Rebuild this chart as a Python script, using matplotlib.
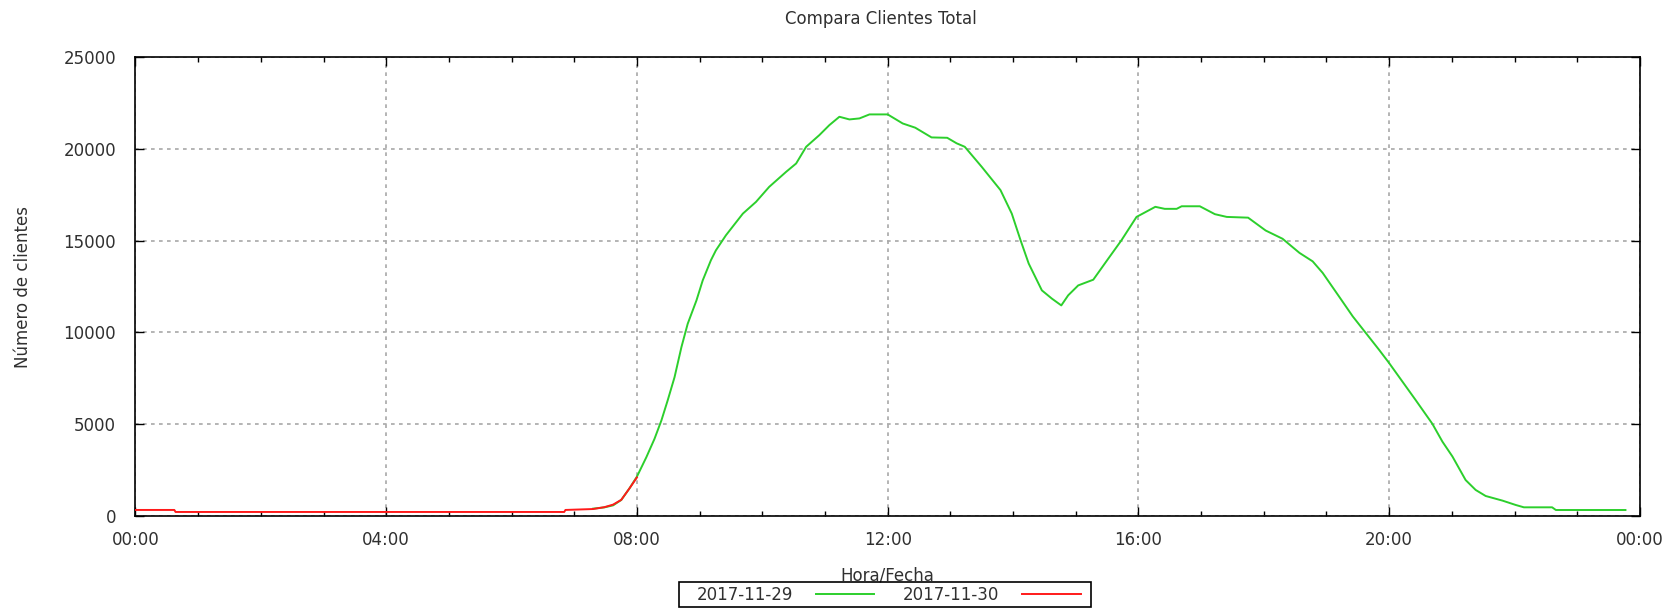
import matplotlib
matplotlib.use("Agg")
import matplotlib.pyplot as plt
from matplotlib.patches import Rectangle
from matplotlib.ticker import MultipleLocator, FixedLocator, FixedFormatter

title = "Compara Clientes Total"
x_label = "Hora/Fecha"
y_label = "Número de clientes"
series_names = ["2017-11-29", "2017-11-30"]
x_tick_hours = [0, 4, 8, 12, 16, 20, 24]
x_tick_labels = ["00:00", "04:00", "08:00", "12:00", "16:00", "20:00", "00:00"]
y_ticks = [0, 5000, 10000, 15000, 20000, 25000]

# 2017-11-29 (green), hours of day vs number of clients
green_hours = [7.30, 7.48, 7.62, 7.75, 7.88, 8.00, 8.15, 8.28, 8.39, 8.49,
               8.60, 8.71, 8.81, 8.95, 9.05, 9.18, 9.26, 9.42, 9.69, 9.90,
               10.11, 10.38, 10.54, 10.70, 10.91, 11.07, 11.23, 11.39, 11.55, 11.71,
               12.00, 12.24, 12.44, 12.70, 12.95, 13.10, 13.23, 13.50, 13.80, 13.98,
               14.12, 14.25, 14.46, 14.62, 14.77, 14.88, 15.04, 15.28, 15.52, 15.73,
               15.97, 16.27, 16.42, 16.61, 16.69, 16.98, 17.22, 17.41, 17.75, 18.03,
               18.30, 18.57, 18.78, 18.94, 19.20, 19.42, 19.63, 19.84, 20.00, 20.21,
               20.42, 20.69, 20.85, 21.01, 21.22, 21.38, 21.54, 21.81, 22.02, 22.15,
               22.60, 22.66, 23.77]
green_values = [400, 470, 580, 873, 1500, 2145, 3200, 4200, 5200, 6290,
                7560, 9200, 10470, 11745, 12836, 13927, 14470, 15290, 16470, 17110,
                17927, 18745, 19200, 20110, 20745, 21290, 21745, 21600, 21655, 21873,
                21873, 21380, 21150, 20620, 20600, 20300, 20110, 19020, 17750, 16470,
                15020, 13750, 12290, 11840, 11470, 12020, 12560, 12870, 14020, 15020,
                16290, 16840, 16730, 16730, 16870, 16870, 16440, 16290, 16250, 15550,
                15100, 14330, 13870, 13240, 11960, 10870, 9960, 9050, 8330, 7330,
                6330, 5020, 4050, 3240, 1960, 1420, 1090, 836, 600, 473,
                473, 327, 327]

# 2017-11-30 (red)
red_hours = [0.00, 0.62, 0.64, 6.84, 6.86, 7.30, 7.48, 7.62, 7.75, 7.88, 8.00]
red_values = [330, 330, 220, 220, 330, 380, 480, 620, 880, 1500, 2100]

text_color = "#303030"
fs = 12

fig = plt.figure(figsize=(16.64, 6.09), dpi=100)
ax = fig.add_axes([0.0814, 0.1527, 0.9041, 0.7537])

ax.plot(green_hours, green_values, color="#2ccf2c", lw=1.4, label=series_names[0], zorder=3)
ax.plot(red_hours, red_values, color="#ff1a1a", lw=1.4, label=series_names[1], zorder=4)

ax.set_xlim(0, 24)
ax.set_ylim(0, 25000)

ax.xaxis.set_major_locator(FixedLocator(x_tick_hours))
ax.xaxis.set_major_formatter(FixedFormatter(x_tick_labels))
ax.xaxis.set_minor_locator(MultipleLocator(1))
ax.yaxis.set_major_locator(FixedLocator(y_ticks))
ax.set_yticklabels([str(v) for v in y_ticks])

ax.tick_params(axis="both", which="major", direction="in", length=6.5, width=1.0,
               top=True, right=True, labelsize=fs, labelcolor=text_color, color="black")
ax.tick_params(axis="both", which="minor", direction="in", length=3.5, width=1.0,
               top=True, right=True, color="black")
ax.tick_params(axis="x", which="major", pad=11)
ax.tick_params(axis="y", which="major", pad=14)

ax.grid(True, which="major", color="#a8a8a8", linestyle=(0, (2.2, 2.6)), lw=1.2, zorder=1)
for s in ax.spines.values():
    s.set_linewidth(1.2)
    s.set_color("black")

ax.set_title(title, fontsize=fs, color=text_color, pad=24, x=0.4955)
ax.set_xlabel(x_label, fontsize=fs, color=text_color)
ax.xaxis.set_label_coords(0.5, -0.11)
ax.set_ylabel(y_label, fontsize=fs, color=text_color)
ax.yaxis.set_label_coords(-0.069, 0.5)

leg = fig.legend(loc="center", bbox_to_anchor=(0.534, 0.0225), ncol=2,
                 markerfirst=False, frameon=False, fontsize=fs,
                 handlelength=3.5, handletextpad=1.4, columnspacing=1.7,
                 borderpad=0.25, borderaxespad=0)
for t in leg.get_texts():
    t.set_color(text_color)

# legend frame (gnuplot-style box, wider horizontal padding)
fig.patches.append(Rectangle((0.408, 0.004), 0.2478, 0.041, transform=fig.transFigure,
                             fill=False, edgecolor="black", linewidth=1.2))

fig.savefig("out.png", dpi=100)
